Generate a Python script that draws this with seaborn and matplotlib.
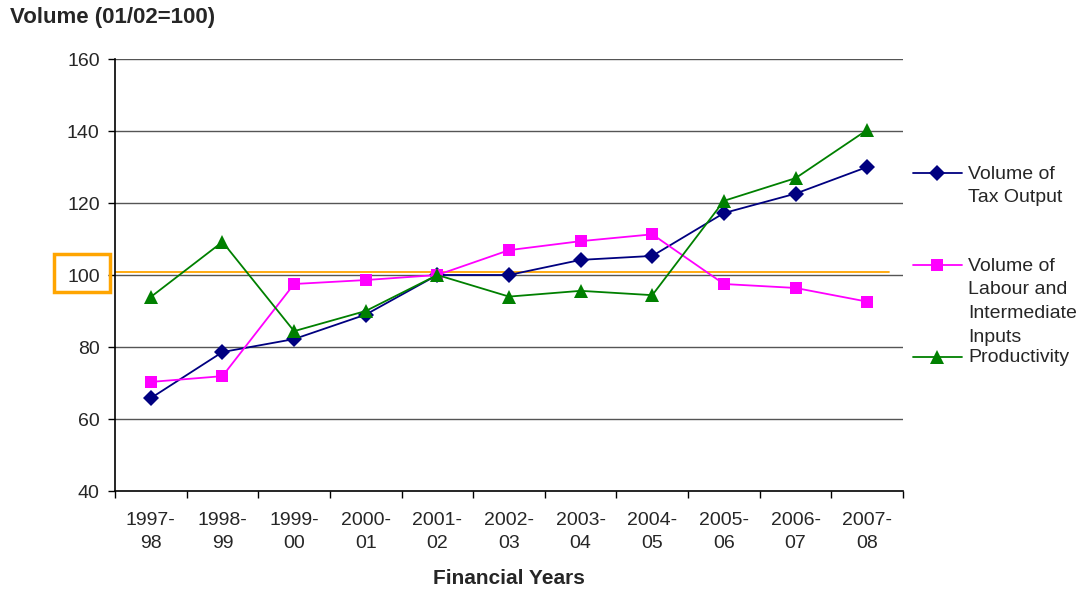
import matplotlib
matplotlib.use("Agg")
import matplotlib.pyplot as plt
from matplotlib.lines import Line2D
from matplotlib.patches import Rectangle
import seaborn as sns
import pandas as pd

years = ["1997-\n98", "1998-\n99", "1999-\n00", "2000-\n01", "2001-\n02", "2002-\n03",
         "2003-\n04", "2004-\n05", "2005-\n06", "2006-\n07", "2007-\n08"]
tax_output = [65.8, 78.6, 82.2, 89.0, 100.0, 100.0, 104.2, 105.3, 117.2, 122.6, 130.0]
labour_inputs = [70.3, 71.9, 97.5, 98.6, 100.0, 106.9, 109.4, 111.3, 97.5, 96.4, 92.6]
productivity = [93.9, 109.2, 84.4, 90.0, 100.0, 94.0, 95.6, 94.4, 120.6, 126.9, 140.3]
reference_level = 100.8

series_names = ["Volume of\nTax Output",
                "Volume of\nLabour and\nIntermediate\nInputs",
                "Productivity"]
colors = ["#000080", "#FF00FF", "#008000"]
markers = ["D", "s", "^"]
msizes = [8, 9, 10]

rows = []
for name, vals in zip(series_names, [tax_output, labour_inputs, productivity]):
    for i, v in enumerate(vals):
        rows.append({"x": i, "value": v, "series": name})
df = pd.DataFrame(rows)

sns.set_style("white")
plt.rcParams["font.family"] = ["Liberation Sans", "DejaVu Sans"]

fig = plt.figure(figsize=(10.78, 5.90), dpi=100)
ax = fig.add_axes([115/1078, 1-491/590, (903-115)/1078, (491-59)/590])

for y in range(60, 161, 20):
    ax.axhline(y, color="#555555", lw=1.0, zorder=0)

ax.plot([-0.5, 10.3], [reference_level, reference_level], color="#FFA500", lw=1.3, zorder=1)

for name, c, m, ms in zip(series_names, colors, markers, msizes):
    sub = df[df["series"] == name]
    sns.lineplot(data=sub, x="x", y="value", color=c, marker=m,
                 markersize=ms, linewidth=1.3, markeredgewidth=0,
                 legend=False, ax=ax, zorder=3)

ax.set_xlim(-0.5, 10.5)
ax.set_ylim(40, 160)
ax.set_yticks(range(40, 161, 20))
ax.set_yticklabels([str(v) for v in range(40, 161, 20)], fontsize=14)
ax.set_xticks(range(11))
ax.set_xticklabels(years, fontsize=14, linespacing=1.5)
ax.set_xticks([i - 0.5 for i in range(12)], minor=True)
ax.tick_params(axis="x", which="major", length=0, pad=15)
ax.tick_params(axis="x", which="minor", length=5, width=1, color="black", direction="out", bottom=True)
ax.tick_params(axis="y", length=5, width=1, color="black", direction="out", left=True, pad=6)

for s in ["top", "right"]:
    ax.spines[s].set_visible(False)
for s in ["left", "bottom"]:
    ax.spines[s].set_color("black")
    ax.spines[s].set_linewidth(1.2)

ax.set_xlabel("Financial Years", fontsize=15, fontweight="bold", labelpad=12)
ax.set_ylabel("")

fig.text(10/1078, 1-18/590, "Volume (01/02=100)", fontsize=16, fontweight="bold",
         ha="left", va="center")

# highlight box around the 100 label
fig.patches.append(Rectangle((54/1078, 1-292/590), 56/1078, 38/590,
                             transform=fig.transFigure, fill=False,
                             edgecolor="#FFA500", lw=2.5))

# legend entries
for name, c, m, ms, ly in zip(series_names, colors, markers, msizes, [173, 265, 357]):
    fy = 1 - ly/590
    fig.add_artist(Line2D([913/1078, 962/1078], [fy, fy], color=c, lw=1.3,
                          transform=fig.transFigure))
    fig.add_artist(Line2D([937/1078], [fy], color=c, marker=m, markersize=ms,
                          markeredgewidth=0, transform=fig.transFigure))
    if "\n" in name:
        fig.text(968/1078, fy + 7/590, name, fontsize=14, ha="left", va="top",
                 linespacing=1.5)
    else:
        fig.text(968/1078, fy, name, fontsize=14, ha="left", va="center")

fig.savefig("out.png", dpi=100)
